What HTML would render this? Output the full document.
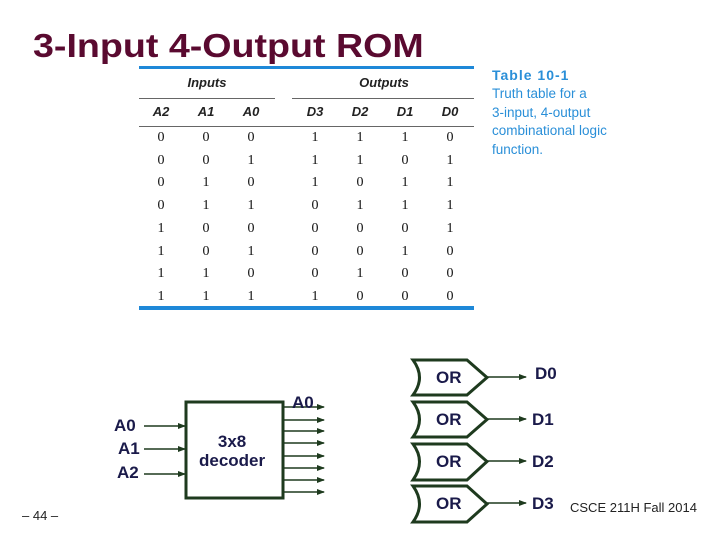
<!DOCTYPE html>
<html><head><style>
body{margin:0;width:720px;height:540px;background:#fff;position:relative;overflow:hidden;font-family:"Liberation Sans",sans-serif}
.a{position:absolute;white-space:nowrap}
.t{font-family:"Liberation Serif",serif;font-size:14px;color:#111;transform:translateX(-50%)}
.h{font-style:italic;font-weight:bold;font-size:13px;color:#222;transform:translateX(-50%)}
.b{font-weight:bold;color:#1a1a4a;font-size:17px}
</style></head><body>
<div class="a" style="left:33px;top:27px;font-size:33px;font-weight:bold;color:#5a0a30;transform-origin:0 0;transform:scaleX(1.14)">3-Input 4-Output ROM</div>
<div class="a" style="left:139px;top:66px;width:335px;height:3px;background:#1e88d8"></div>
<div class="a" style="left:139px;top:306px;width:335px;height:4px;background:#1e88d8"></div>
<div class="a" style="left:139px;top:98px;width:136px;height:1px;background:#666"></div>
<div class="a" style="left:292px;top:98px;width:182px;height:1px;background:#666"></div>
<div class="a" style="left:139px;top:126px;width:335px;height:1px;background:#666"></div>
<div class="a h" style="left:207px;top:75px">Inputs</div>
<div class="a h" style="left:384px;top:75px">Outputs</div>
<div class="a h" style="left:161px;top:104px">A2</div>
<div class="a h" style="left:206px;top:104px">A1</div>
<div class="a h" style="left:251px;top:104px">A0</div>
<div class="a h" style="left:315px;top:104px">D3</div>
<div class="a h" style="left:360px;top:104px">D2</div>
<div class="a h" style="left:405px;top:104px">D1</div>
<div class="a h" style="left:450px;top:104px">D0</div>
<div id="rows"></div>
<div class="a" style="left:492px;top:67px;font-size:14px;font-weight:bold;color:#2a8fd8;letter-spacing:1px">Table 10-1</div>
<div class="a" style="left:492px;top:85px;font-size:13.5px;line-height:18.5px;color:#2a8fd8">Truth table for a<br>3-input, 4-output<br>combinational logic<br>function.</div>
<svg class="a" style="left:0;top:0" width="720" height="540">
<defs><marker id="m" markerWidth="8" markerHeight="6" refX="7" refY="3" orient="auto" markerUnits="userSpaceOnUse"><path d="M0,0L8,3L0,6z" fill="#1e3a1e"/></marker></defs>
<g stroke="#1e3a1e" stroke-width="1.5" fill="none">
<rect x="186" y="402" width="97" height="96" stroke-width="3"/>
<line x1="144" y1="426" x2="185" y2="426" marker-end="url(#m)"/>
<line x1="144" y1="449" x2="185" y2="449" marker-end="url(#m)"/>
<line x1="144" y1="474" x2="185" y2="474" marker-end="url(#m)"/>
<g marker-end="url(#m)">
<line x1="283" y1="407" x2="324" y2="407"/><line x1="283" y1="420" x2="324" y2="420"/>
<line x1="283" y1="431" x2="324" y2="431"/><line x1="283" y1="443" x2="324" y2="443"/>
<line x1="283" y1="456" x2="324" y2="456"/><line x1="283" y1="468" x2="324" y2="468"/>
<line x1="283" y1="480" x2="324" y2="480"/><line x1="283" y1="492" x2="324" y2="492"/>
</g>
<g stroke-width="3">
<path d="M413,360H467L487,377.5L467,395H413Q426,377.5 413,360Z"/>
<path d="M413,402H467L487,419.5L467,437H413Q426,419.5 413,402Z"/>
<path d="M413,444H467L487,461.5L467,480H413Q426,461.5 413,444Z"/>
<path d="M413,486H467L487,504L467,522H413Q426,504 413,486Z"/>
</g>
<g marker-end="url(#m)">
<line x1="487" y1="377" x2="526" y2="377"/><line x1="487" y1="419" x2="526" y2="419"/>
<line x1="487" y1="461" x2="526" y2="461"/><line x1="487" y1="503" x2="526" y2="503"/>
</g></g></svg>
<div class="a b" style="left:114px;top:416px">A0</div>
<div class="a b" style="left:118px;top:439px">A1</div>
<div class="a b" style="left:117px;top:463px">A2</div>
<div class="a b" style="left:199px;top:432px;text-align:center;line-height:19px">3x8<br>decoder</div>
<div class="a b" style="left:292px;top:393px">A0</div>
<div class="a b" style="left:436px;top:368px">OR</div>
<div class="a b" style="left:436px;top:410px">OR</div>
<div class="a b" style="left:436px;top:452px">OR</div>
<div class="a b" style="left:436px;top:494px">OR</div>
<div class="a b" style="left:535px;top:364px">D0</div>
<div class="a b" style="left:532px;top:410px">D1</div>
<div class="a b" style="left:532px;top:452px">D2</div>
<div class="a b" style="left:532px;top:494px">D3</div>
<div class="a" style="left:570px;top:500px;font-size:13px;color:#222">CSCE 211H Fall 2014</div>
<div class="a" style="left:22px;top:508px;font-size:13px;color:#222">– 44 –</div>
<script>
var d=["0001110","0011101","0101011","0110111","1000001","1010010","1100100","1111000"],x=[161,206,251,315,360,405,450],h="";
d.forEach(function(r,i){for(var j=0;j<7;j++)h+='<div class="a t" style="left:'+x[j]+'px;top:'+(130+i*22.7)+'px">'+r[j]+'</div>';});
document.getElementById('rows').innerHTML=h;
</script>
</body></html>
